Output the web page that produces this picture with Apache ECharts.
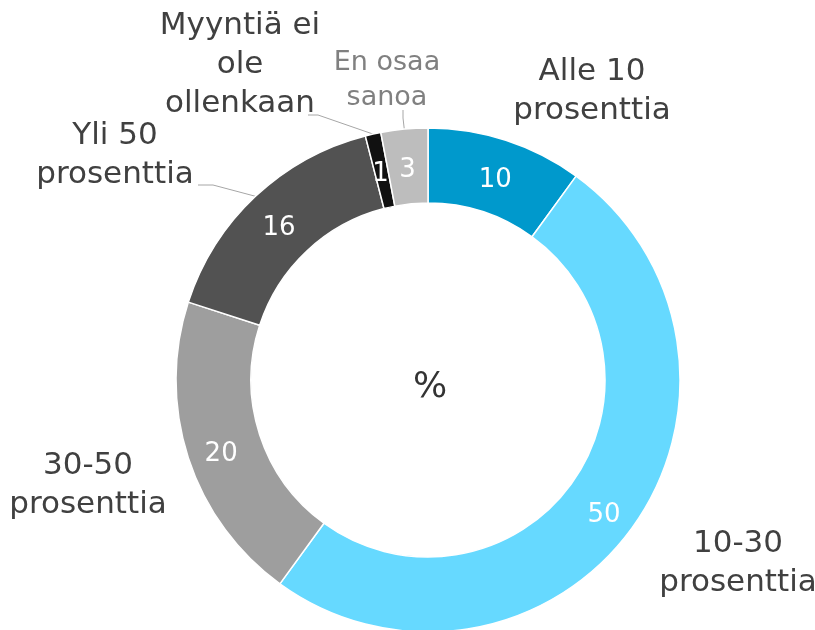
<!DOCTYPE html>
<html>
<head>
<meta charset="utf-8">
<script src="https://cdn.jsdelivr.net/npm/echarts@6/dist/echarts.min.js"></script>
<style>
  html, body { margin: 0; padding: 0; background: #fff; }
  #chart { width: 815px; height: 630px; }
</style>
</head>
<body>
<div id="chart"></div>
<script>
// data, clockwise from 12 o'clock
var categories = [
  "Alle 10\nprosenttia",
  "10-30\nprosenttia",
  "30-50\nprosenttia",
  "Yli 50\nprosenttia",
  "Myyntiä ei\nole\nollenkaan",
  "En osaa\nsanoa"
];
var values = [10, 50, 20, 16, 1, 3];
var colors = ["#0099cc", "#66d9ff", "#9e9e9e", "#525252", "#111111", "#bdbdbd"];

// where the category names sit (label positions only)
var namePos = [
  [592, 91], [738, 563], [88, 485], [115, 155], [240, 65], [387, 80]
];
// leader line bends for the small slices (null = no line)
var leaderBends = [
  null, null, null,
  [[213, 185], [198, 185]],
  [[318, 115], [308, 115]],
  [[403, 118], [403, 110]]
];

var chart = echarts.init(document.getElementById("chart"));

var ringData = values.map(function (v, i) {
  return { value: v, name: categories[i], itemStyle: { color: colors[i] } };
});

var nameData = values.map(function (v, i) {
  return {
    value: v,
    name: categories[i],
    label: {
      color: i === 5 ? "#808080" : "#404040",
      fontSize: i === 5 ? 27 : 31,
      lineHeight: i === 5 ? 35 : 39
    },
    labelLine: { show: leaderBends[i] !== null }
  };
});

var option = {
  animation: false,
  title: {
    text: "%",
    left: 425,
    top: 383,
    textAlign: "center",
    textVerticalAlign: "middle",
    textStyle: { fontFamily: "DejaVu Sans", fontSize: 36, fontWeight: "normal", color: "#333" }
  },
  series: [
    {
      type: "pie",
      center: [428, 380],
      radius: [177, 252],
      startAngle: 90,
      clockwise: true,
      silent: true,
      itemStyle: { borderColor: "#fff", borderWidth: 1.5 },
      label: {
        position: "inside",
        formatter: "{c}",
        color: "#fff",
        fontFamily: "DejaVu Sans",
        fontSize: 26,
        offset: [0, 7]
      },
      labelLine: { show: false },
      data: ringData
    },
    {
      type: "pie",
      center: [428, 380],
      radius: [177, 252],
      startAngle: 90,
      clockwise: true,
      silent: true,
      itemStyle: { color: "rgba(0,0,0,0)", borderWidth: 0 },
      label: {
        position: "outside",
        formatter: "{b}",
        fontFamily: "DejaVu Sans",
        align: "center",
        overflow: "none"
      },
      labelLine: {
        show: true,
        length: 10,
        length2: 10,
        lineStyle: { color: "#a6a6a6", width: 1 }
      },
      labelLayout: function (params) {
        var i = params.dataIndex;
        var p = namePos[i];
        var out = { x: p[0], y: p[1], align: "center", verticalAlign: "middle" };
        var bend = leaderBends[i];
        if (bend && params.labelLinePoints) {
          out.labelLinePoints = [params.labelLinePoints[0], bend[0], bend[1]];
        }
        return out;
      },
      data: nameData
    }
  ]
};

chart.setOption(option);
</script>
</body>
</html>
